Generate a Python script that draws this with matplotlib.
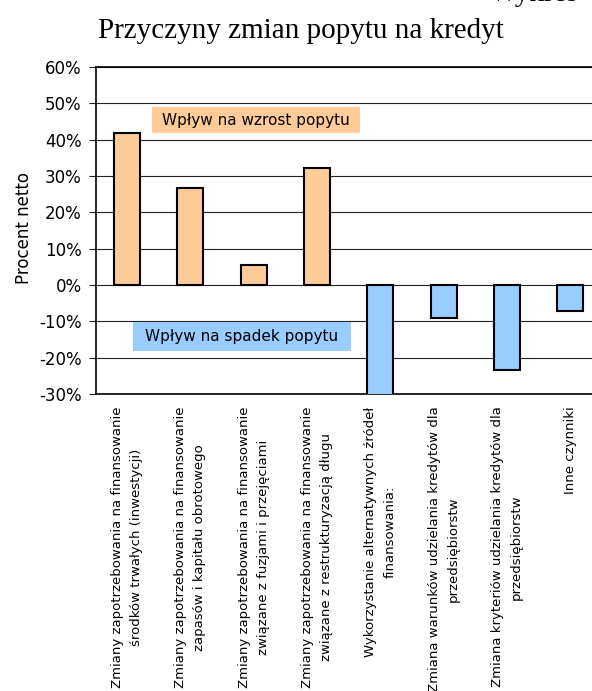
import numpy as np
import matplotlib.pyplot as plt
from matplotlib.patches import Rectangle

kategorie = [
    "Zmiany zapotrzebowania na finansowanie\nśrodków trwałych (inwestycji)",
    "Zmiany zapotrzebowania na finansowanie\nzapasów i kapitału obrotowego",
    "Zmiany zapotrzebowania na finansowanie\nzwiązane z fuzjami i przejęciami",
    "Zmiany zapotrzebowania na finansowanie\nzwiązane z restrukturyzacją długu",
    "Wykorzystanie alternatywnych źródeł\nfinansowania:",
    "Zmiana warunków udzielania kredytów dla\nprzedsiębiorstw",
    "Zmiana kryteriów udzielania kredytów dla\nprzedsiębiorstw",
    "Inne czynniki",
]
procent_netto = [41.7, 26.8, 5.4, 32.3, -33.0, -9.2, -23.4, -7.2]
y_ticks = [-30, -20, -10, 0, 10, 20, 30, 40, 50, 60]

kolor_wzrost = "#FFCC99"
kolor_spadek = "#99CCFF"

fig = plt.figure(figsize=(5.92, 6.91), dpi=100)
ax = fig.add_axes([95.5 / 592, 297 / 691, 506.5 / 592, 327 / 691])

x = np.arange(len(kategorie))
kolory = [kolor_wzrost if v >= 0 else kolor_spadek for v in procent_netto]
ax.bar(x, procent_netto, width=0.41, color=kolory, edgecolor="black",
       linewidth=1.5, zorder=3)

ax.set_xlim(-0.5, len(kategorie) - 0.5)
ax.set_ylim(-30, 60)
ax.set_yticks(y_ticks)
ax.set_yticklabels([f"{v}%" for v in y_ticks], fontsize=12)
ax.yaxis.grid(True, color="#222222", linewidth=0.8, zorder=0)
ax.tick_params(axis="y", length=5, width=0.8, pad=5, color="#222222")

ax.set_xticks(x)
ax.set_xticklabels(kategorie, rotation=90, fontsize=9.5, va="top",
                   ha="center", multialignment="center", linespacing=1.6)
ax.tick_params(axis="x", length=0, pad=9)

for s in ["left", "bottom", "top"]:
    ax.spines[s].set_linewidth(1.2)
    ax.spines[s].set_color("black")
ax.spines["right"].set_visible(False)

# opisy kierunku wpływu
ax.add_patch(Rectangle((0.393, 41.8), 3.285, 7.15, facecolor=kolor_wzrost,
                       edgecolor="none", zorder=4))
ax.text(2.036, 45.4, "Wpływ na wzrost popytu", ha="center", va="center",
        fontsize=11, zorder=5)
ax.add_patch(Rectangle((0.092, -18.2), 3.444, 8.0, facecolor=kolor_spadek,
                       edgecolor="none", zorder=4))
ax.text(1.814, -14.2, "Wpływ na spadek popytu", ha="center", va="center",
        fontsize=11, zorder=5)

fig.text(24 / 592, 1 - 228 / 691, "Procent netto", rotation=90,
         ha="center", va="center", fontsize=12)
fig.text(301 / 592, 1 - 31 / 691, "Przyczyny zmian popytu na kredyt",
         ha="center", va="center", fontsize=21, family="Liberation Serif")
fig.text(490 / 592, 1 - 1 / 691, "Wykres", ha="left", va="baseline",
         fontsize=21, family="Liberation Serif")

fig.savefig("out.png", dpi=100)
